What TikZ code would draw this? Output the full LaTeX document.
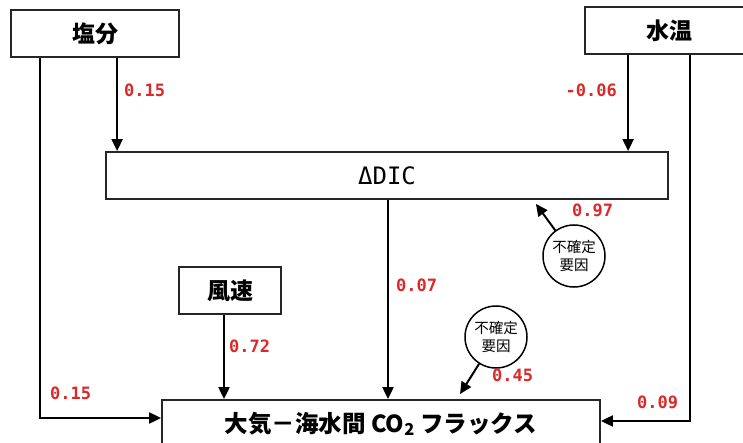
\documentclass[tikz,border=0pt]{standalone}
\usepackage{fontspec}
\setmainfont{Noto Sans CJK JP}
\newfontfamily\monofont{DejaVu Sans Mono}
\usetikzlibrary{arrows.meta}
\definecolor{lblred}{RGB}{220,40,40}
\tikzset{
  box/.style={draw=black!85, line width=1.8pt, rectangle, inner sep=0pt, fill=white},
  arr/.style={line width=2pt, -{Triangle[length=12pt,width=11pt]}},
  coef/.style={text=lblred, font=\monofont\bfseries\fontsize{17}{17}\selectfont, inner sep=0pt},
  ucirc/.style={draw=black, line width=1.5pt, circle, minimum size=62pt, inner sep=0pt, align=center,
    font=\fontsize{14.5}{18}\selectfont},
}
\begin{document}
\begin{tikzpicture}[x=1pt,y=-1pt]
\useasboundingbox (0,0) rectangle (743,443);
\begin{scope}
\clip (0,0) rectangle (743,443);
\node[box, minimum width=168pt, minimum height=47pt, font=\bfseries\fontsize{23}{23}\selectfont] (salt) at (95,33.5) {塩分};
\node[box, minimum width=168pt, minimum height=47pt, font=\bfseries\fontsize{23}{23}\selectfont] (temp) at (669,30.5) {水温};
\node[box, minimum width=562pt, minimum height=47pt, font=\monofont\fontsize{24}{24}\selectfont] (dic) at (387,175.5) {ΔDIC};
\node[box, minimum width=102pt, minimum height=47pt, font=\bfseries\fontsize{23}{23}\selectfont] (wind) at (230,290.5) {風速};
\node[box, minimum width=438pt, minimum height=48pt, font=\bfseries\fontsize{23.5}{23.5}\selectfont] (flux) at (381,424) {大気－海水間 CO\textsubscript{2} フラックス};
\node[ucirc] (u1) at (574,256) {不確定\\要因};
\node[ucirc] (u2) at (496,337) {不確定\\要因};

\draw[arr] ([xshift=30pt]salt.south west) |- ([yshift=6pt]flux.west);
\draw[arr] ([xshift=107pt]salt.south west) coordinate (s2) -- (s2 |- dic.north);
\draw[arr] ([xshift=44pt]temp.south west) coordinate (t1) -- (t1 |- dic.north);
\draw[arr] ([xshift=106pt]temp.south west) |- ([yshift=3pt]flux.east);
\draw[arr] ([xshift=-6pt]wind.south) coordinate (w1) -- (w1 |- flux.north);
\draw[arr] ([xshift=1pt]dic.south) coordinate (d1) -- (d1 |- flux.north);
\draw[arr] (u1) -- ([xshift=-133pt,yshift=-4pt]dic.south east);
\draw[arr] (u2) -- ([xshift=79pt,yshift=5pt]flux.north);

\node[coef, anchor=west] (c1) at (124,90) {0.15};
\node[coef, anchor=east] (c2) at (617,90) {-0.06};
\node[coef, anchor=west] (c3) at (572,210) {0.97};
\node[coef, anchor=west] (c4) at (396,285) {0.07};
\node[coef, anchor=west] (c5) at (229,346) {0.72};
\node[coef, anchor=west] (c6) at (492,375) {0.45};
\node[coef, anchor=west] (c7) at (50,393) {0.15};
\node[coef, anchor=west] (c8) at (637,402) {0.09};
\end{scope}
\end{tikzpicture}
\end{document}
